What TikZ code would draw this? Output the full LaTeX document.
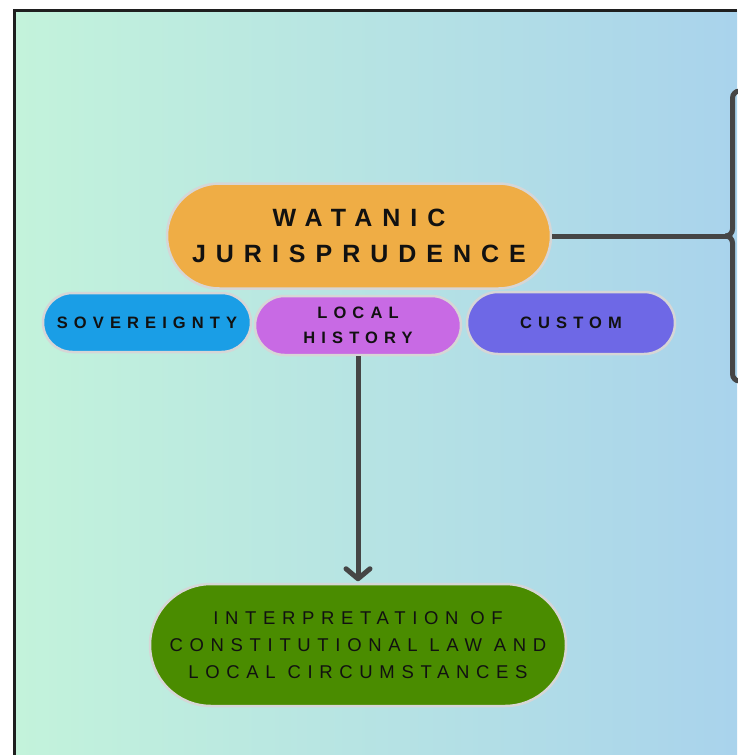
\documentclass[tikz,border=0pt]{standalone}
\usepackage{fontspec}
\setmainfont{Liberation Sans}
\newfontfamily\wfont[LetterSpace=40]{Liberation Sans}
\newfontfamily\sfont[LetterSpace=37]{Liberation Sans}
\newfontfamily\gfont[LetterSpace=36]{Liberation Sans}
\usetikzlibrary{shapes.misc,arrows.meta}
\definecolor{bgleft}{HTML}{C3F3DB}
\definecolor{bgright}{HTML}{A9D3EC}
\definecolor{orangebox}{HTML}{EFAD45}
\definecolor{bluebox}{HTML}{1A9EE6}
\definecolor{purplebox}{HTML}{C86AE4}
\definecolor{violetbox}{HTML}{6E68E6}
\definecolor{greenbox}{HTML}{4A8C00}
\definecolor{edgegray}{HTML}{D6D6D6}
\definecolor{linkgray}{HTML}{454545}
\definecolor{txt}{HTML}{111111}
\tikzset{
  pill/.style={rounded rectangle, draw=edgegray, line width=2.5pt, inner sep=0pt, align=center, text=txt},
  link/.style={draw=linkgray, line width=5pt},
}
\begin{document}
\begin{tikzpicture}[x=1pt,y=-1pt]
\useasboundingbox (0,0) rectangle (737,755);
\shade[left color=bgleft, right color=bgright] (14.5,10.5) rectangle (737,755);
\draw[line width=2.5pt, color=black!88] (14.5,755) -- (14.5,10.5) -- (737,10.5);

\node[pill, fill=orangebox, minimum width=384pt, minimum height=105pt, font=\wfont\bfseries\fontsize{25}{36}\selectfont] (wat) at (359,236) {WATANIC\\JURISPRUDENCE};
\node[pill, fill=bluebox, minimum width=208pt, minimum height=59pt, font=\sfont\bfseries\fontsize{16.5}{25}\selectfont] (sov) at (147,322.5) {SOVEREIGNTY};
\node[pill, fill=purplebox, minimum width=206pt, minimum height=59pt, font=\sfont\bfseries\fontsize{16.5}{25}\selectfont] (lh) at (358,325.5) {LOCAL\\HISTORY};
\node[pill, fill=violetbox, minimum width=208pt, minimum height=62pt, font=\sfont\bfseries\fontsize{16.5}{25}\selectfont] (cus) at (571,323) {CUSTOM};
\node[pill, fill=greenbox, minimum width=416pt, minimum height=122pt, font=\gfont\fontsize{18.5}{27}\selectfont] (grn) at (358,645) {INTERPRETATION OF\\CONSTITUTIONAL LAW AND\\LOCAL CIRCUMSTANCES};

\coordinate (tip) at (727,236);
\coordinate (bmid) at (732.5,236);
\coordinate (btop) at (745,91);
\coordinate (bbot) at (745,381);
\draw[link] (wat.east) -- (tip);
\draw[link, rounded corners=7pt] (btop) -| (bmid) -- (tip);
\draw[link, rounded corners=7pt] (bbot) -| (bmid) -- (tip);
\draw[link, shorten >=1.5pt, -{Straight Barb[length=10pt, width=24pt, round]}] (lh.south) -- (grn.north);
\end{tikzpicture}
\end{document}
